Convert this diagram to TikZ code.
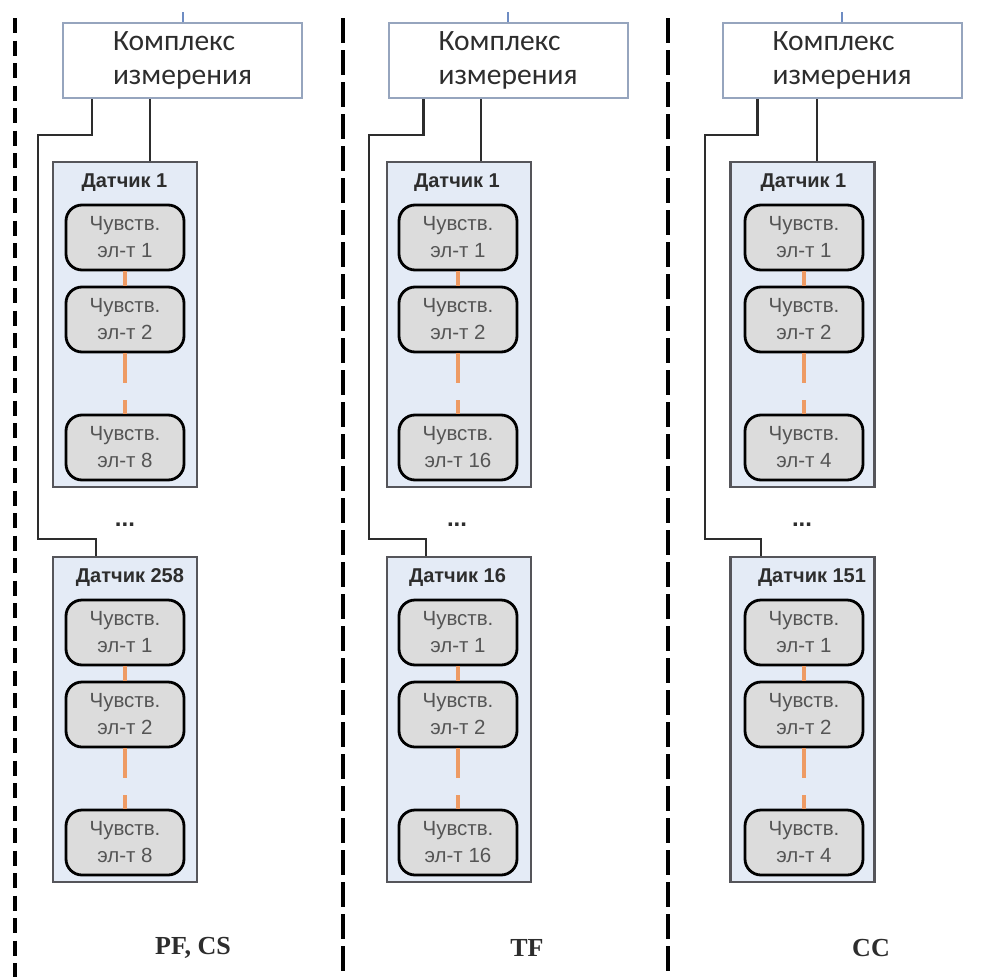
\documentclass[tikz,border=0pt]{standalone}
\usepackage{fontspec}
\newfontfamily\calfont{Carlito}
\newfontfamily\arfont{Liberation Sans}
\newfontfamily\tmfont{Liberation Serif}
\definecolor{cbord}{RGB}{150,165,190}
\definecolor{topblue}{RGB}{110,140,195}
\definecolor{sfill}{RGB}{228,235,246}
\definecolor{sbord}{RGB}{85,85,90}
\definecolor{efill}{RGB}{220,220,220}
\definecolor{etext}{RGB}{85,85,85}
\definecolor{lbl}{RGB}{45,45,45}
\definecolor{orng}{RGB}{238,155,100}
\definecolor{wirec}{RGB}{45,45,45}
\begin{document}
\begin{tikzpicture}[x=1pt,y=-1pt,
  complex/.style={draw=cbord, line width=2pt, fill=white, minimum width=239pt, minimum height=75pt, inner sep=0pt, align=left, text=lbl, font=\calfont\fontsize{29.5}{34}\selectfont},
  sensor/.style={draw=sbord, line width=2.2pt, fill=sfill, minimum width=144pt, minimum height=325pt, inner sep=0pt},
  slabel/.style={font=\arfont\bfseries\fontsize{20}{22}\selectfont, text=lbl, inner sep=0pt},
  elem/.style={draw=black, line width=2.8pt, fill=efill, rounded corners=16pt, minimum width=118pt, minimum height=65pt, inner sep=0pt, align=center, text=etext, font=\arfont\fontsize{20.5}{27}\selectfont},
  wire/.style={draw=wirec, line width=2.5pt},
  topwire/.style={draw=topblue, line width=2pt},
  ocon/.style={draw=orng, line width=3.5pt},
  odash/.style={draw=orng, line width=3.5pt, dash pattern=on 30pt off 17pt},
  dots/.style={font=\arfont\bfseries\fontsize{24}{26}\selectfont, text=lbl, inner sep=0pt},
  plabel/.style={font=\tmfont\bfseries\fontsize{26}{28}\selectfont, text=lbl, inner sep=0pt},
  divshort/.style={draw=black, line width=3.5pt, dash pattern=on 15pt off 7.5pt},
  divlong/.style={draw=black, line width=3.5pt, dash pattern=on 25pt off 7pt}]
\useasboundingbox (0,0) rectangle (1004,977);
\fill[white] (0,0) rectangle (1004,977);

% dividers
\draw[divshort] (15,18) -- (15,977);
\draw[divlong] (343,18) -- (343,977);
\draw[divlong] (668,18) -- (668,977);

% ---------------- Panel A ----------------
\node[complex] (cbA) at (182.5,60.5) {Комплекс\\измерения};
\draw[topwire] (cbA.north) -- ++(0,-10);
\node[sensor] (sA1) at (125,324.5) {};
\node[slabel] (lA1) at (124.5,183) {Датчик 1};
\node[elem] (eA11) at (125,237.5) {Чувств.\\эл-т 1};
\node[elem] (eA12) at (125,319.5) {Чувств.\\эл-т 2};
\node[elem] (eA13) at (125,447.5) {Чувств.\\эл-т 8};
\draw[ocon] (eA11.south) -- (eA12.north);
\draw[odash] (eA12.south) -- (eA13.north);
\node[dots] (dA) at (125,525) {...};
\node[sensor] (sA2) at (125,719.5) {};
\node[slabel] (lA2) at (130,578) {Датчик 258};
\node[elem] (eA21) at (125,632.5) {Чувств.\\эл-т 1};
\node[elem] (eA22) at (125,714.5) {Чувств.\\эл-т 2};
\node[elem] (eA23) at (125,842.5) {Чувств.\\эл-т 8};
\draw[ocon] (eA21.south) -- (eA22.north);
\draw[odash] (eA22.south) -- (eA23.north);
\draw[wire] ([xshift=25pt]sA1.north) -- ([xshift=25pt]sA1.north |- cbA.south);
\draw[wire] ([xshift=30pt]cbA.south west) -- ++(0,36) -| (38,539) -| ([xshift=44pt]sA2.north west);
\node[plabel] (pA) at (193,948) {PF, CS};

% ---------------- Panel B ----------------
\node[complex] (cbB) at (508,60.5) {Комплекс\\измерения};
\draw[topwire] (cbB.north) -- ++(0,-10);
\node[sensor] (sB1) at (459,324.5) {};
\node[slabel] (lB1) at (457,183) {Датчик 1};
\node[elem] (eB11) at (458,237.5) {Чувств.\\эл-т 1};
\node[elem] (eB12) at (458,319.5) {Чувств.\\эл-т 2};
\node[elem] (eB13) at (458,447.5) {Чувств.\\эл-т 16};
\draw[ocon] (eB11.south) -- (eB12.north);
\draw[odash] (eB12.south) -- (eB13.north);
\node[dots] (dB) at (457,525) {...};
\node[sensor] (sB2) at (459,719.5) {};
\node[slabel] (lB2) at (457.5,578) {Датчик 16};
\node[elem] (eB21) at (458,632.5) {Чувств.\\эл-т 1};
\node[elem] (eB22) at (458,714.5) {Чувств.\\эл-т 2};
\node[elem] (eB23) at (458,842.5) {Чувств.\\эл-т 16};
\draw[ocon] (eB21.south) -- (eB22.north);
\draw[odash] (eB22.south) -- (eB23.north);
\draw[wire] ([xshift=22pt]sB1.north) -- ([xshift=22pt]sB1.north |- cbB.south);
\draw[wire] ([xshift=36pt]cbB.south west) -- ++(0,36) -| (369,539) -| ([xshift=40pt]sB2.north west);
\node[plabel] (pB) at (527,948) {TF};

% ---------------- Panel C ----------------
\node[complex] (cbC) at (842,60.5) {Комплекс\\измерения};
\draw[topwire] (cbC.north) -- ++(0,-10);
\node[sensor] (sC1) at (802.5,324.5) {};
\node[slabel] (lC1) at (803.5,183) {Датчик 1};
\node[elem] (eC11) at (804,237.5) {Чувств.\\эл-т 1};
\node[elem] (eC12) at (804,319.5) {Чувств.\\эл-т 2};
\node[elem] (eC13) at (804,447.5) {Чувств.\\эл-т 4};
\draw[ocon] (eC11.south) -- (eC12.north);
\draw[odash] (eC12.south) -- (eC13.north);
\node[dots] (dC) at (802,525) {...};
\node[sensor] (sC2) at (802.5,719.5) {};
\node[slabel] (lC2) at (812,578) {Датчик 151};
\node[elem] (eC21) at (804,632.5) {Чувств.\\эл-т 1};
\node[elem] (eC22) at (804,714.5) {Чувств.\\эл-т 2};
\node[elem] (eC23) at (804,842.5) {Чувств.\\эл-т 4};
\draw[ocon] (eC21.south) -- (eC22.north);
\draw[odash] (eC22.south) -- (eC23.north);
\draw[wire] ([xshift=14.5pt]sC1.north) -- ([xshift=14.5pt]sC1.north |- cbC.south);
\draw[wire] ([xshift=36pt]cbC.south west) -- ++(0,36) -| (705,539) -| ([xshift=31.5pt]sC2.north west);
\node[plabel] (pC) at (871,948) {CC};
\end{tikzpicture}
\end{document}
